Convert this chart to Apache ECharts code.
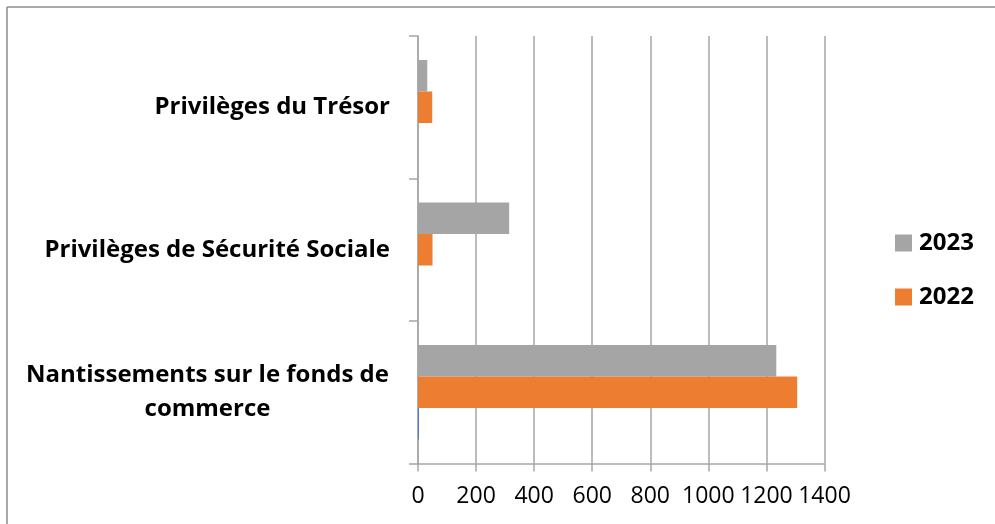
<!DOCTYPE html>
<html>
<head>
<meta charset="utf-8">
<script src="https://cdn.jsdelivr.net/npm/echarts@6/dist/echarts.min.js"></script>
<style>
  html, body { margin: 0; padding: 0; background: #fff; }
  #chart { width: 995px; height: 524px; }
</style>
</head>
<body>
<div id="chart"></div>
<script>
// data, categories bottom to top
const categories = ['Nantissements sur le fonds de commerce', 'Privilèges de Sécurité Sociale', 'Privilèges du Trésor']
const values2023 = [1234, 314, 32]
const values2022 = [1306, 50, 49]
const valuesOther = [3, 0, 0] // tiny blue series with no legend entry
const xTicks = [0, 200, 400, 600, 800, 1000, 1200, 1400]

const chart = echarts.init(document.getElementById('chart'))
const gridColor = '#a6a6a6'

chart.setOption({
  animation: false,
  color: ['#A5A5A5', '#ED7D31', '#4472C4'],
  graphic: [
    // frame: only the left and top edges show in the picture
    { type: 'line', shape: { x1: 7, y1: 7, x2: 995, y2: 7 }, style: { stroke: '#8c8c8c', lineWidth: 1.5 } },
    { type: 'line', shape: { x1: 7, y1: 7, x2: 7, y2: 524 }, style: { stroke: '#8c8c8c', lineWidth: 1.5 } }
  ],
  legend: {
    data: ['2023', '2022'],
    orient: 'vertical',
    left: 895,
    top: 231,
    padding: 0,
    itemWidth: 17,
    itemHeight: 17,
    itemGap: 30,
    icon: 'rect',
    textStyle: {
      fontFamily: 'Open Sans',
      fontWeight: 'bold',
      fontSize: 24,
      color: '#000',
      padding: [0, 0, 0, 2]
    }
  },
  grid: {
    left: 418,
    right: 170.5,
    top: 36,
    bottom: 60.5
  },
  xAxis: {
    type: 'value',
    min: 0,
    max: xTicks[xTicks.length - 1],
    interval: xTicks[1] - xTicks[0],
    axisLine: { show: true, lineStyle: { color: gridColor, width: 1.5 } },
    axisTick: { show: true, length: 8, lineStyle: { color: gridColor, width: 1.5 } },
    splitLine: { show: true, lineStyle: { color: gridColor, width: 1.5 } },
    axisLabel: {
      margin: 21,
      color: '#000',
      fontFamily: 'Open Sans',
      fontSize: 23,
      showMinLabel: true,
      showMaxLabel: true,
      hideOverlap: false,
      formatter: function (v) { return String(v) }
    }
  },
  yAxis: {
    type: 'category',
    data: categories,
    axisLine: { show: true, lineStyle: { color: gridColor, width: 1.5 } },
    axisTick: { show: true, length: 9, lineStyle: { color: gridColor, width: 1.5 } },
    axisLabel: {
      margin: 28,
      color: '#000',
      fontFamily: 'Open Sans',
      fontWeight: 'bold',
      fontSize: 24,
      formatter: function (val) {
        if (val === categories[0]) {
          return '{c|Nantissements sur le fonds de}\n{c|commerce}'
        }
        return val
      },
      rich: {
        c: {
          width: 365,
          align: 'center',
          fontFamily: 'Open Sans',
          fontWeight: 'bold',
          fontSize: 24,
          lineHeight: 34,
          color: '#000'
        }
      }
    }
  },
  series: [
    {
      name: '2023',
      type: 'bar',
      barWidth: 31.5,
      barGap: '0%',
      data: values2023
    },
    {
      name: '2022',
      type: 'bar',
      barWidth: 31.5,
      barGap: '0%',
      data: values2022
    },
    {
      name: '',
      type: 'bar',
      barWidth: 31.5,
      barGap: '0%',
      data: valuesOther
    }
  ]
})
</script>
</body>
</html>
